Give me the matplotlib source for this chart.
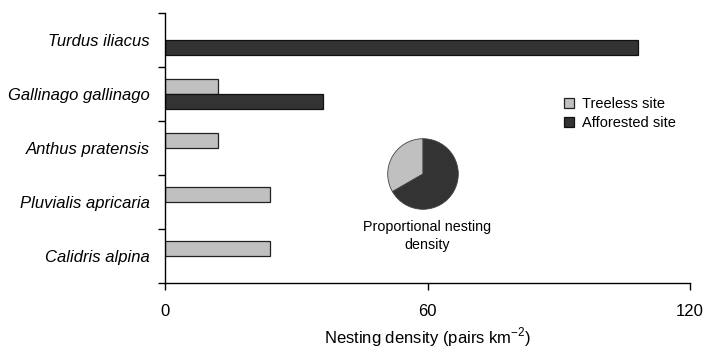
import matplotlib
matplotlib.use("Agg")
import matplotlib.pyplot as plt
import numpy as np

plt.rcParams['font.family'] = ['Liberation Sans', 'DejaVu Sans']
plt.rcParams['mathtext.fontset'] = 'custom'
plt.rcParams['mathtext.rm'] = 'Liberation Sans'

species = ["Calidris alpina", "Pluvialis apricaria", "Anthus pratensis",
           "Gallinago gallinago", "Turdus iliacus"]
treeless = [24, 24, 12, 12, 0]
afforested = [0, 0, 0, 36, 108]
series_labels = ["Treeless site", "Afforested site"]
light = "#c0c0c0"
dark = "#333333"

W, H = 707, 348
fig = plt.figure(figsize=(W / 100, H / 100), dpi=100)
ax = fig.add_axes([165 / W, 1 - 283 / H, (690 - 165) / W, (283 - 13) / H])

y = np.arange(len(species))
h = 15 / 54
tl = np.array(treeless, dtype=float)
af = np.array(afforested, dtype=float)
mt = tl > 0
ma = af > 0
b1 = ax.barh(y[mt] + h / 2, tl[mt], height=h, color=light, edgecolor="#222222",
             linewidth=0.9, label=series_labels[0])
b2 = ax.barh(y[ma] - h / 2, af[ma], height=h, color=dark, edgecolor="#111111",
             linewidth=0.9, label=series_labels[1])

ax.set_xlim(0, 120)
ax.set_ylim(-0.5, len(species) - 0.5)
ax.set_xticks([0, 60, 120])
ax.tick_params(axis='x', direction='out', length=5, width=1, pad=10, labelsize=12)
ax.set_yticks(y)
ax.set_yticklabels(species, fontstyle='italic', fontsize=12)
ax.tick_params(axis='y', which='major', length=0, pad=11)
ax.set_yticks(np.arange(len(species) + 1) - 0.5, minor=True)
ax.tick_params(axis='y', which='minor', direction='out', length=5, width=1)
ax.spines['top'].set_visible(False)
ax.spines['right'].set_visible(False)
for s in ['left', 'bottom']:
    ax.spines[s].set_linewidth(1)
ax.set_xlabel("Nesting density (pairs km$^{\\mathregular{-2}}$)", fontsize=12, labelpad=5)

leg = ax.legend(handles=[b1, b2], loc='upper left',
                bbox_to_anchor=((551 - 165) / (690 - 165), 1 - (84 - 13) / 270),
                frameon=False, fontsize=10.5, handlelength=0.7, handleheight=0.7,
                handletextpad=0.5, labelspacing=0.35)

# pie inset
cx, cy, r = 423, 174, 36
pax = fig.add_axes([(cx - r) / W, 1 - (cy + r) / H, 2 * r / W, 2 * r / H])
pax.pie([sum(treeless), sum(afforested)], colors=[light, dark], startangle=90,
        counterclock=True, wedgeprops=dict(edgecolor="#444444", linewidth=0.6))
pax.set_xlim(-1.02, 1.02)
pax.set_ylim(-1.02, 1.02)
pax.set_aspect('equal')
fig.text(427 / W, 1 - 236 / H, "Proportional nesting\ndensity", ha='center',
         va='center', fontsize=10.3, linespacing=1.35)

fig.savefig("out.png", dpi=100)
